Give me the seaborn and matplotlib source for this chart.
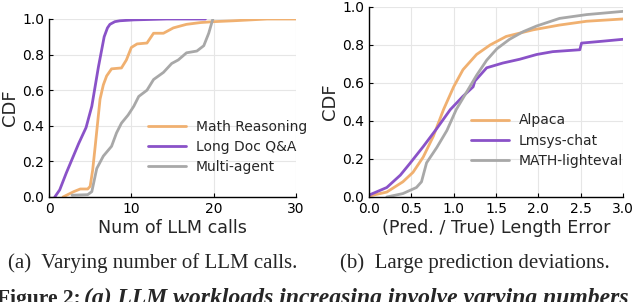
import numpy as np
import pandas as pd
import matplotlib
matplotlib.use("Agg")
import matplotlib.pyplot as plt
import seaborn as sns

# ---- Data ----
math_x = [1.7, 3.0, 3.8, 4.7, 5.0, 5.3, 5.6, 6.2, 6.6, 7.0, 7.6, 8.8, 9.4, 10.0, 10.7, 11.9, 12.7, 13.9, 15.1, 16.7, 18.4, 20.0, 22.4, 26.5, 30.0]
math_y = [0.0, 0.03, 0.045, 0.045, 0.06, 0.15, 0.28, 0.55, 0.63, 0.68, 0.72, 0.725, 0.77, 0.84, 0.86, 0.865, 0.92, 0.92, 0.95, 0.97, 0.98, 0.985, 0.99, 1.0, 1.0]
doc_x = [0.7, 1.3, 2.1, 3.6, 4.5, 5.2, 6.0, 6.7, 7.1, 7.4, 8.0, 8.6, 10.3, 14.3, 19.0]
doc_y = [0.0, 0.04, 0.135, 0.30, 0.39, 0.51, 0.73, 0.90, 0.95, 0.97, 0.985, 0.99, 0.995, 1.0, 1.0]
agent_x = [2.8, 4.7, 5.2, 5.8, 6.6, 7.6, 8.2, 8.8, 9.6, 10.3, 10.9, 11.9, 12.7, 13.9, 14.9, 15.7, 16.7, 17.96, 18.8, 19.4, 19.9]
agent_y = [0.01, 0.013, 0.03, 0.16, 0.23, 0.285, 0.36, 0.415, 0.46, 0.51, 0.565, 0.60, 0.66, 0.70, 0.75, 0.77, 0.81, 0.82, 0.85, 0.92, 1.0]

alpaca_x = [0.0, 0.21, 0.40, 0.52, 0.64, 0.76, 0.88, 1.0, 1.11, 1.27, 1.43, 1.62, 1.94, 2.25, 2.57, 3.0]
alpaca_y = [0.005, 0.026, 0.08, 0.13, 0.21, 0.32, 0.46, 0.58, 0.67, 0.75, 0.80, 0.845, 0.88, 0.905, 0.925, 0.937]
lmsys_x = [0.0, 0.21, 0.37, 0.48, 0.64, 0.80, 0.96, 1.11, 1.23, 1.25, 1.31, 1.37, 1.39, 1.58, 1.78, 1.98, 2.17, 2.49, 2.51, 2.76, 3.0]
lmsys_y = [0.01, 0.05, 0.115, 0.175, 0.265, 0.36, 0.46, 0.53, 0.58, 0.61, 0.64, 0.67, 0.68, 0.705, 0.725, 0.75, 0.765, 0.775, 0.81, 0.82, 0.83]
mathlv_x = [0.21, 0.40, 0.56, 0.62, 0.68, 0.80, 0.92, 1.03, 1.15, 1.27, 1.39, 1.51, 1.66, 1.82, 1.98, 2.25, 2.57, 3.0]
mathlv_y = [0.0, 0.018, 0.05, 0.08, 0.18, 0.26, 0.35, 0.46, 0.55, 0.64, 0.72, 0.78, 0.83, 0.87, 0.90, 0.94, 0.96, 0.977]

left_names = ["Math Reasoning", "Long Doc Q&A", "Multi-agent"]
right_names = ["Alpaca", "Lmsys-chat", "MATH-lighteval"]
caption_a = "(a)  Varying number of LLM calls."
caption_b = "(b)  Large prediction deviations."
fig_label = "Figure 2:"
fig_caption = "(a) LLM workloads increasing involve varying numbers"

ORANGE = "#F0B070"
PURPLE = "#8A52C8"
GRAY = "#A8A8A8"

sns.set_theme(style="ticks")
plt.rcParams["font.family"] = ["DejaVu Sans"]

fig = plt.figure(figsize=(6.4, 3.02), dpi=100)
axL = fig.add_axes([49/640, 1-197/302, 247/640, 178/302])
axR = fig.add_axes([369/640, 1-197/302, 254/640, 190/302])

def df_of(xs, ys, name):
    return pd.DataFrame({"x": xs, "y": ys, "s": name})

dL = pd.concat([df_of(math_x, math_y, left_names[0]),
                df_of(doc_x, doc_y, left_names[1]),
                df_of(agent_x, agent_y, left_names[2])])
dR = pd.concat([df_of(alpaca_x, alpaca_y, right_names[0]),
                df_of(lmsys_x, lmsys_y, right_names[1]),
                df_of(mathlv_x, mathlv_y, right_names[2])])

pal = [ORANGE, PURPLE, GRAY]
sns.lineplot(data=dL, x="x", y="y", hue="s", palette=pal, ax=axL, lw=2, sort=False, estimator=None)
sns.lineplot(data=dR, x="x", y="y", hue="s", palette=pal, ax=axR, lw=2, sort=False, estimator=None)

for ax in (axL, axR):
    ax.set_ylim(0, 1.0)
    ax.set_yticks([0, 0.2, 0.4, 0.6, 0.8, 1.0])
    ax.set_yticklabels(["0.0", "0.2", "0.4", "0.6", "0.8", "1.0"])
    ax.grid(True, color="#e6e6e6", lw=0.8)
    ax.set_axisbelow(True)
    ax.tick_params(direction="in", labelsize=10, length=3, width=0.8, colors="black")
    for s in ("top", "right"):
        ax.spines[s].set_visible(False)
    for s in ("left", "bottom"):
        ax.spines[s].set_color("black")
        ax.spines[s].set_linewidth(1.0)
    ax.set_ylabel("CDF", fontsize=13, labelpad=2)

axL.legend(loc="lower right", bbox_to_anchor=(1.045, 0.129), frameon=False, fontsize=10,
           handlelength=2.7, handletextpad=0.72, borderaxespad=0, borderpad=0, labelspacing=0.45)
axR.legend(loc="lower right", bbox_to_anchor=(1.0, 0.153), frameon=False, fontsize=10,
           handlelength=2.7, handletextpad=0.72, borderaxespad=0, borderpad=0, labelspacing=0.45)

axL.set_xlim(0, 30)
axL.set_xticks([0, 10, 20, 30])
axL.set_xlabel("Num of LLM calls", fontsize=12.6, labelpad=2)
axR.set_xlim(0, 3.0)
axR.set_xticks([0, 0.5, 1.0, 1.5, 2.0, 2.5, 3.0])
axR.set_xticklabels(["0.0", "0.5", "1.0", "1.5", "2.0", "2.5", "3.0"])
axR.set_xlabel("(Pred. / True) Length Error", fontsize=12.6, labelpad=2)

fig.text(8/640, 1-263/302, caption_a, family="Liberation Serif", fontsize=15, va="center", ha="left")
fig.text(340/640, 1-263/302, caption_b, family="Liberation Serif", fontsize=15, va="center", ha="left")
fig.text(-3/640, 1-304/302, fig_label, family="Liberation Serif", fontsize=15.5, fontweight="bold",
         va="baseline", ha="left")
fig.text(84/640, 1-304/302, fig_caption, family="Liberation Serif", fontsize=17.0, fontweight="bold",
         style="italic", va="baseline", ha="left")

fig.savefig("out.png", dpi=100)
